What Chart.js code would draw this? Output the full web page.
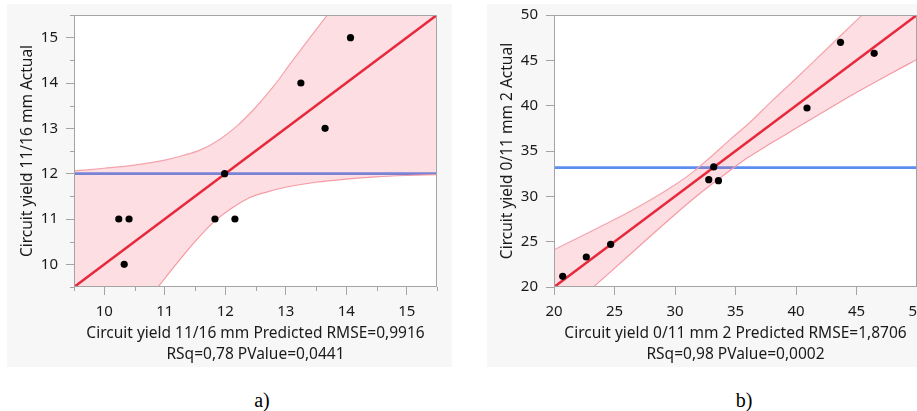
<!DOCTYPE html>
<html>
<head>
<meta charset="utf-8">
<script src="https://cdn.jsdelivr.net/npm/chart.js@4.4.1/dist/chart.umd.min.js"></script>
<style>
  html, body { margin: 0; padding: 0; background: #fff; }
  body { position: relative; width: 917px; height: 411px; overflow: hidden; }
  .panel { position: absolute; top: 4px; width: 445px; height: 363px; background: #f7f7f7; }
  #panelA { left: 7px; }
  #panelB { left: 487px; }
  .tag { position: absolute; top: 389px; font-family: "Liberation Serif", serif; font-size: 20px; line-height: 22px; color: #000; transform: translateX(-50%); }
</style>
</head>
<body>
<div class="panel" id="panelA"><canvas id="chartA" width="445" height="363"></canvas></div>
<div class="panel" id="panelB"><canvas id="chartB" width="445" height="363"></canvas></div>
<div class="tag" style="left:262px">a)</div>
<div class="tag" style="left:744px">b)</div>
<script>
// ---- a) Circuit yield 11/16 mm ----
const predA = [10.24, 10.41, 10.33, 11.83, 12.16, 11.99, 13.25, 13.65, 14.07];
const actA = [11, 11, 10, 11, 11, 12, 14, 13, 15];
const fitXA = [9.5, 15.5];
const fitYA = [9.5, 15.5];
const meanA = 12;
const upperXA = [9.5, 10.0, 10.5, 11.0, 11.3, 11.6, 11.9, 12.2, 12.5, 12.8, 13.1, 13.4, 13.7, 14.0, 14.5, 15.5];
const upperYA = [12.06, 12.12, 12.19, 12.3, 12.4, 12.53, 12.75, 13.06, 13.46, 13.93, 14.47, 15.0, 15.52, 16.05, 16.9, 18.6];
const lowerXA = [9.5, 10.0, 10.3, 10.6, 10.9, 11.2, 11.5, 11.8, 12.1, 12.4, 12.7, 13.0, 13.5, 14.0, 14.5, 15.0, 15.5];
const lowerYA = [7.1, 7.95, 8.48, 9.02, 9.52, 10.02, 10.5, 10.92, 11.23, 11.47, 11.6, 11.7, 11.81, 11.88, 11.93, 11.96, 11.98];
const ticksA = [10, 11, 12, 13, 14, 15];
const minorA = [9.5, 10.5, 11.5, 12.5, 13.5, 14.5, 15.5];

// ---- b) Circuit yield 0/11 mm 2 ----
const predB = [20.72, 22.67, 24.68, 32.79, 33.2, 33.59, 40.91, 43.68, 46.46];
const actB = [21.18, 23.31, 24.71, 31.84, 33.24, 31.73, 39.74, 46.99, 45.77];
const fitXB = [20, 50];
const fitYB = [20, 50];
const meanB = 33.16;
const upperXB = [20, 22.5, 25, 27.5, 30, 31.5, 33, 34.5, 36, 38, 40, 42.5, 45, 47.5, 50];
const upperYB = [24.1, 25.77, 27.44, 29.24, 31.28, 32.7, 34.4, 36.2, 37.92, 40.5, 43.0, 46.2, 49.4, 52.6, 55.8];
const lowerXB = [20, 22, 23.3, 25, 27.5, 30, 31.5, 33, 34.5, 36, 38, 40, 42.5, 45, 47.5, 50];
const lowerYB = [15.6, 18.4, 20.03, 22.05, 25.05, 28.0, 29.7, 31.3, 32.8, 34.25, 35.9, 37.5, 39.5, 41.45, 43.3, 45.1];
const ticksB = [20, 25, 30, 35, 40, 45, 50];

const FONT = "'Noto Sans', sans-serif";
const TEXT = '#1a1a1a';
const AXIS = '#a4a4a4';

const pts = (xs, ys) => xs.map((x, i) => ({ x: x, y: ys[i] }));

// white plot area, border box and optional minor ticks
const frame = {
  id: 'frame',
  beforeDraw(chart) {
    const { ctx, chartArea: a } = chart;
    ctx.save();
    ctx.fillStyle = '#fff';
    ctx.fillRect(a.left, a.top, a.width, a.height);
    ctx.restore();
  },
  afterDraw(chart, args, opts) {
    const { ctx, chartArea: a, scales } = chart;
    ctx.save();
    ctx.strokeStyle = AXIS;
    ctx.lineWidth = 1;
    ctx.strokeRect(Math.round(a.left) + 0.5, Math.round(a.top) + 0.5, Math.round(a.width) - 1, Math.round(a.height) - 1);
    if (opts.minor) {
      ctx.beginPath();
      opts.minor.forEach(v => {
        const px = Math.round(scales.x.getPixelForValue(v)) + 0.5;
        ctx.moveTo(px, a.bottom);
        ctx.lineTo(px, a.bottom + 4);
        const py = Math.round(scales.y.getPixelForValue(v)) + 0.5;
        ctx.moveTo(a.left, py);
        ctx.lineTo(a.left - 4, py);
      });
      ctx.stroke();
    }
    ctx.restore();
  }
};

function makeAxis(min, max, ticks, title, isX) {
  return {
    type: 'linear',
    min: min,
    max: max,
    afterBuildTicks: ax => { ax.ticks = ticks.map(v => ({ value: v })); },
    afterFit: ax => {
      // fixed axis sizes, no extra room for end labels
      if (isX) ax.height = 80; else ax.width = 67;
      ax.paddingTop = 0; ax.paddingBottom = 0; ax.paddingLeft = 0; ax.paddingRight = 0;
    },
    grid: { drawOnChartArea: false, color: AXIS, tickLength: 8 },
    border: { display: false },
    ticks: { font: { family: FONT, size: 15 }, color: TEXT, padding: isX ? 8 : 8, maxRotation: 0, autoSkip: false },
    title: {
      display: true,
      text: title,
      color: TEXT,
      font: { family: FONT, size: 15.5, lineHeight: 1.355 },
      padding: isX ? { top: 0, bottom: 1.5 } : { top: 10.5, bottom: 0 }
    }
  };
}

function makeChart(id, d) {
  new Chart(document.getElementById(id), {
    type: 'line',
    data: {
      datasets: [
        { data: pts(d.px, d.py), showLine: false, pointRadius: 3.6, pointBackgroundColor: '#000', pointBorderWidth: 0 },
        { data: pts(d.fitX, d.fitY), borderColor: '#e8283b', borderWidth: 2.6, pointRadius: 0, clip: 0 },
        { data: pts(d.upX, d.upY), borderColor: '#f5a3ab', borderWidth: 1.2, pointRadius: 0, clip: 0,
          cubicInterpolationMode: 'monotone', fill: { target: 3 }, backgroundColor: 'rgba(245,90,110,0.2)' },
        { data: pts(d.loX, d.loY), borderColor: '#f5a3ab', borderWidth: 1.2, pointRadius: 0, clip: 0,
          cubicInterpolationMode: 'monotone', fill: false },
        { data: pts([d.xMin, d.xMax], [d.mean, d.mean]), borderColor: '#5b8ef0', borderWidth: 2.7, pointRadius: 0, clip: 0 }
      ]
    },
    options: {
      responsive: false,
      animation: false,
      layout: { padding: { top: 11, right: 15, left: 0, bottom: 0 } },
      scales: {
        x: makeAxis(d.xMin, d.xMax, d.ticks, d.xTitle, true),
        y: makeAxis(d.xMin, d.xMax, d.ticks, d.yTitle, false)
      },
      plugins: {
        legend: { display: false },
        tooltip: { enabled: false },
        frame: { minor: d.minor }
      }
    },
    plugins: [frame]
  });
}

makeChart('chartA', {
  px: predA, py: actA, fitX: fitXA, fitY: fitYA, mean: meanA,
  upX: upperXA, upY: upperYA, loX: lowerXA, loY: lowerYA,
  xMin: 9.5, xMax: 15.5, ticks: ticksA, minor: minorA,
  xTitle: ['Circuit yield 11/16 mm Predicted RMSE=0,9916', 'RSq=0,78 PValue=0,0441'],
  yTitle: 'Circuit yield 11/16 mm Actual'
});

makeChart('chartB', {
  px: predB, py: actB, fitX: fitXB, fitY: fitYB, mean: meanB,
  upX: upperXB, upY: upperYB, loX: lowerXB, loY: lowerYB,
  xMin: 20, xMax: 50, ticks: ticksB, minor: null,
  xTitle: ['Circuit yield 0/11 mm 2 Predicted RMSE=1,8706', 'RSq=0,98 PValue=0,0002'],
  yTitle: 'Circuit yield 0/11 mm 2 Actual'
});
</script>
</body>
</html>
